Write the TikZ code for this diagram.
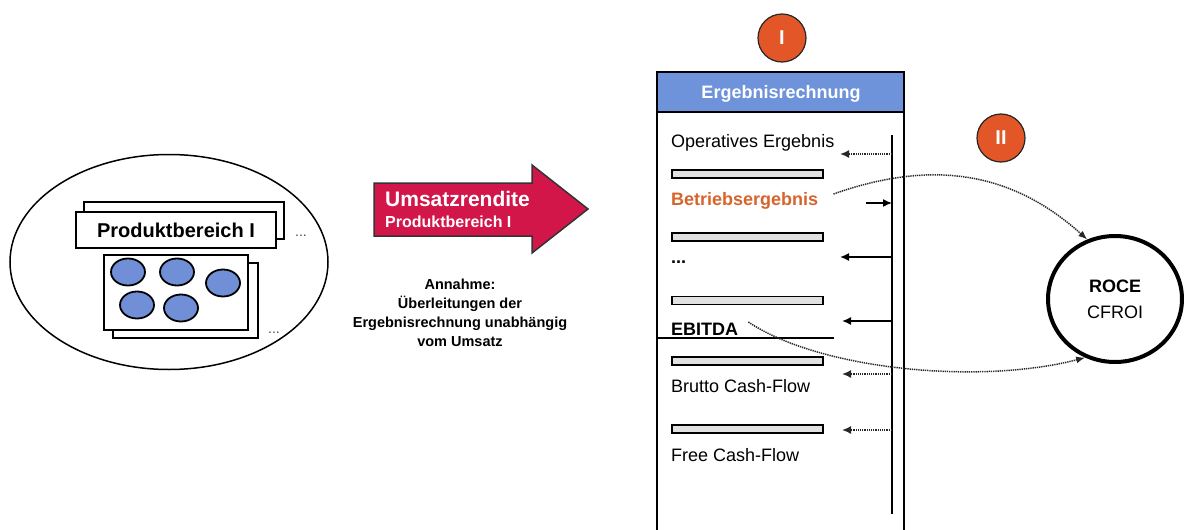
\documentclass[tikz,border=0pt]{standalone}
\usepackage{fontspec}
\setmainfont{Liberation Sans}
\usetikzlibrary{arrows.meta,shapes.geometric,calc}
\definecolor{crimson}{RGB}{210,22,74}
\definecolor{badge}{RGB}{226,86,40}
\definecolor{headblue}{RGB}{110,147,218}
\definecolor{dotblue}{RGB}{112,143,214}
\definecolor{ergorange}{RGB}{215,100,45}
\definecolor{linkgray}{RGB}{40,40,40}
\definecolor{bargray}{RGB}{225,225,225}
\begin{document}
\begin{tikzpicture}[x=1pt,y=-1pt,
  box/.style={draw=black,line width=2pt,fill=white},
  card/.style={draw=black,line width=2pt,fill=white,rectangle,inner sep=0pt},
  blob/.style={ellipse,draw=black,line width=1.8pt,fill=dotblue,minimum width=34pt,minimum height=27pt,inner sep=0pt},
  bar/.style={rectangle,draw=black,line width=1.6pt,fill=bargray,minimum width=151pt,minimum height=8pt,inner sep=0pt},
  badgecirc/.style={circle,draw=black!85,line width=1.2pt,fill=badge,minimum size=48pt,inner sep=0pt,text=white,font=\fontsize{20}{20}\selectfont\bfseries},
  item/.style={anchor=west,inner sep=0pt,font=\fontsize{18}{21}\selectfont},
  moredots/.style={inner sep=0pt,text=black!70,font=\fontsize{14}{14}\selectfont},
  solidarr/.style={-{Latex[length=9pt,width=8pt]},line width=1.5pt},
  dotarr/.style={-{Latex[length=9pt,width=8pt]},line width=1.6pt,dash pattern=on 1.3pt off 0.9pt,draw=linkgray},
  linkarr/.style={-{Latex[length=9pt,width=7pt]},line width=1.5pt,dash pattern=on 1.3pt off 0.9pt,draw=linkgray}
]
\clip (0,0) rectangle (1184,530);
\fill[white] (0,0) rectangle (1184,530);

% product area
\node[ellipse,draw=black,line width=1.5pt,minimum width=318pt,minimum height=215pt,inner sep=0pt] (area) at (169,262) {};
\node[card,minimum width=200pt,minimum height=37pt] (pbback) at (184,220) {};
\node[card,minimum width=200pt,minimum height=36pt,font=\fontsize{20}{20}\selectfont\bfseries] (pb) at (176,230) {Produktbereich I};
\node[moredots] (pbdots) at (301,236) {...};
\node[card,minimum width=145pt,minimum height=75pt] (grpback) at (185.5,300.5) {};
\node[card,minimum width=144pt,minimum height=75pt] (grp) at (176,292.5) {};
\node[moredots] (grpdots) at (274,333) {...};
\node[blob] (b1) at (128,272) {};
\node[blob] (b2) at (177,272) {};
\node[blob] (b3) at (223,283) {};
\node[blob] (b4) at (137,305) {};
\node[blob] (b5) at (181,308) {};

% margin arrow
\draw[fill=crimson,draw=black!80,line width=1.5pt]
  (374,183) -- (532,183) -- (532,165) -- (588,209) -- (532,253) -- (532,236) -- (374,236) -- cycle;
\node[anchor=west,inner sep=0pt,text=white,font=\fontsize{21}{21}\selectfont\bfseries] (ur) at (385,199) {Umsatzrendite};
\node[anchor=west,inner sep=0pt,text=white,font=\fontsize{16}{16}\selectfont\bfseries] (urpb) at (385,222) {Produktbereich I};
\node[align=center,inner sep=0pt,font=\fontsize{14.5}{19}\selectfont\bfseries] (note) at (460,313)
  {Annahme:\\Überleitungen der\\Ergebnisrechnung unabhängig\\vom Umsatz};

% income statement
\draw[box] (657,72) rectangle (904,545);
\draw[fill=headblue,draw=black,line width=2pt] (657,72) rectangle (904,112);
\node[inner sep=0pt,text=white,font=\fontsize{18}{18}\selectfont\bfseries] (head) at (781,94) {Ergebnisrechnung};
\node[badgecirc] (one) at (782,38) {I};
\node[badgecirc] (two) at (1001,138) {II};

\coordinate (vtop) at (892,135);
\coordinate (vbot) at (892,514);
\draw[line width=2pt] (vtop) -- (vbot);

\node[item] (opE) at (671,143) {Operatives Ergebnis};
\node[bar] (bar1) at (747.5,174) {};
\node[item,text=ergorange,font=\fontsize{18}{21}\selectfont\bfseries] (betrieb) at (671,201) {Betriebsergebnis};
\node[bar] (bar2) at (747.5,237) {};
\node[item,font=\fontsize{18}{21}\selectfont\bfseries] (etc) at (671,262) {...};
\node[bar] (bar3) at (747.5,300.5) {};
\node[item,font=\fontsize{18}{21}\selectfont\bfseries] (ebitda) at (671,329) {EBITDA};
\coordinate (cutL) at (658,338);
\coordinate (cutR) at (834,338);
\draw[line width=1.3pt] (cutL) -- (cutR);
\node[bar] (bar4) at (747.5,361) {};
\node[item] (brutto) at (671,386) {Brutto Cash-Flow};
\node[bar] (bar5) at (747.5,429) {};
\node[item] (free) at (671,455) {Free Cash-Flow};

% arrows at the side line
\coordinate (a1s) at (892,154); \coordinate (a1e) at (840,154);
\coordinate (a2s) at (866,203); \coordinate (a2e) at (892,203);
\coordinate (a3s) at (892,257); \coordinate (a3e) at (840,257);
\coordinate (a4s) at (892,321); \coordinate (a4e) at (842,321);
\coordinate (a5s) at (892,374); \coordinate (a5e) at (842,374);
\coordinate (a6s) at (892,430); \coordinate (a6e) at (842,430);
\draw[dotarr] (a1s) -- (a1e);
\draw[solidarr] (a2s) -- (a2e);
\draw[solidarr] (a3s) -- (a3e);
\draw[solidarr] (a4s) -- (a4e);
\draw[dotarr] (a5s) -- (a5e);
\draw[dotarr] (a6s) -- (a6e);

% return figures
\node[ellipse,draw=black,line width=4pt,minimum width=134pt,minimum height=126pt,inner sep=0pt,align=center,font=\fontsize{18}{26}\selectfont] (roce) at (1115,299) {\textbf{ROCE}\\CFROI};

\draw[linkarr] ($(betrieb.east)+(15,-7)$) .. controls (930,160) and (1010,170) .. (roce.115);
\draw[linkarr] ($(ebitda.east)+(10,-7)$) .. controls (820,370) and (980,385) .. (roce.243);
\end{tikzpicture}
\end{document}
